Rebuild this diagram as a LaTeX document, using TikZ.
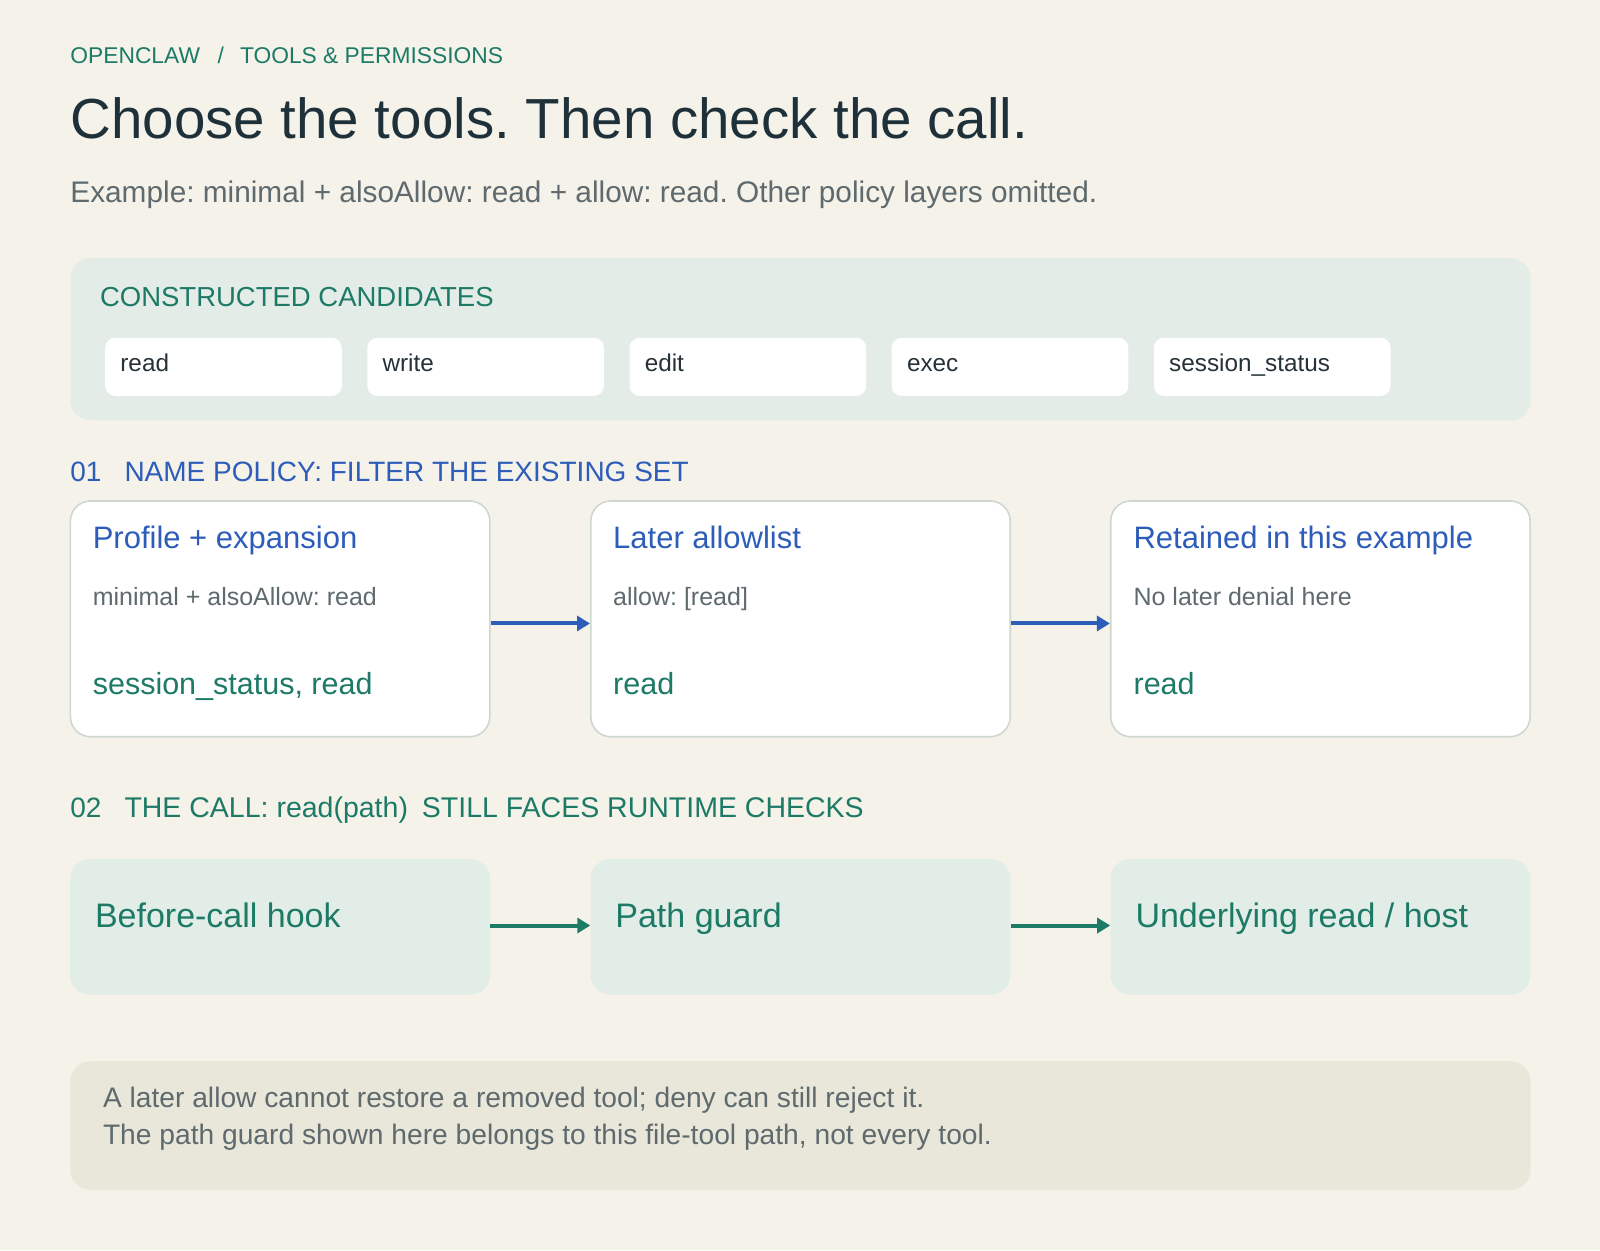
\documentclass[tikz,border=0pt]{standalone}
\usepackage{fontspec}
\setmainfont{Liberation Sans}
\usetikzlibrary{arrows.meta}
\frenchspacing
\definecolor{bg}{HTML}{F5F2EA}
\definecolor{panel}{HTML}{E4ECE7}
\definecolor{callfill}{HTML}{E3EDE7}
\definecolor{notefill}{HTML}{E9E6DA}
\definecolor{cardline}{HTML}{CFD7D1}
\definecolor{teal}{HTML}{1D7A66}
\definecolor{blue}{HTML}{2D5DB9}
\definecolor{ink}{HTML}{1E3039}
\definecolor{muted}{HTML}{5E6A6D}
\definecolor{chipink}{HTML}{263238}
\begin{document}
\frenchspacing
\begin{tikzpicture}[x=1pt,y=-1pt,
  txt/.style={inner sep=0pt,outer sep=0pt,anchor=base west},
  fs/.style={font=\fontsize{#1pt}{#1pt}\selectfont},
  chip/.style={fill=white,rounded corners=10pt,minimum width=236.7pt,minimum height=58.1pt,inner sep=0pt},
  card/.style={fill=white,draw=cardline,line width=1.6pt,rounded corners=20pt,minimum width=419.4pt,minimum height=235.7pt,inner sep=0pt},
  callbox/.style={fill=callfill,rounded corners=20pt,minimum width=420pt,minimum height=135.7pt,inner sep=0pt},
  bluearrow/.style={draw=blue,line width=4pt,-{Triangle[length=13pt,width=15pt]}},
  tealarrow/.style={draw=teal,line width=4pt,-{Triangle[length=13pt,width=15pt]}}
]
\fill[bg] (0,0) rectangle (1600,1250);
\useasboundingbox (0,0) rectangle (1600,1250);

% header
\node[txt,fs=22.8,text=teal] (k1) at (70.4,63.3) {OPENCLAW};
\node[txt,fs=22.8,text=teal] (k2) at (217.5,63.3) {/};
\node[txt,fs=22.8,text=teal] (k3) at (240,63.3) {TOOLS \& PERMISSIONS};
\node[txt,fs=56.5,text=ink] (title) at (70.4,138.8) {Choose the tools. Then check the call.};
\node[txt,fs=29.8,text=muted] (sub) at (70.4,202) {Example: minimal + alsoAllow: read + allow: read. Other policy layers omitted.};

% candidates panel
\node[fill=panel,rounded corners=20pt,minimum width=1460.2pt,minimum height=162.2pt,inner sep=0pt] (panel) at (800.5,339.3) {};
\node[txt,fs=27.5,text=teal] (ph) at (100,306) {CONSTRUCTED CANDIDATES};
\foreach \i/\t in {0/read,1/write,2/edit,3/exec,4/session\_status}{
  \node[chip] (ch\i) at ({223.45+262.2*\i},366.85) {};
  \node[txt,fs=24.3,text=chipink] (cht\i) at ({120.4+262.2*\i},371.4) {\t};
}

% section 01
\node[txt,fs=28,text=blue] (s1n) at (70.4,481.6) {01};
\node[txt,fs=28,text=blue] (s1) at (124.5,481.6) {NAME POLICY: FILTER THE EXISTING SET};

\node[card] (c1) at (280.1,618.85) {};
\node[card] (c2) at (800.5,618.85) {};
\node[card] (c3) at (1320.4,618.85) {};

\node[txt,fs=31,text=blue] (c1t) at (92.8,548) {Profile + expansion};
\node[txt,fs=25,text=muted] (c1b) at (92.8,605) {minimal + alsoAllow: read};
\node[txt,fs=30.5,text=teal] (c1r) at (92.8,694) {session\_status, read};

\node[txt,fs=31,text=blue] (c2t) at (613.2,548) {Later allowlist};
\node[txt,fs=25,text=muted] (c2b) at (613.2,605) {allow: [read]};
\node[txt,fs=30.5,text=teal] (c2r) at (613.2,694) {read};

\node[txt,fs=31,text=blue] (c3t) at (1133.6,548) {Retained in this example};
\node[txt,fs=25,text=muted] (c3b) at (1133.6,605) {No later denial here};
\node[txt,fs=30.5,text=teal] (c3r) at (1133.6,694) {read};

\draw[bluearrow] ([yshift=-4.6pt]c1.east) -- ([yshift=-4.6pt]c2.west);
\draw[bluearrow] ([yshift=-4.6pt]c2.east) -- ([yshift=-4.6pt]c3.west);

% section 02
\node[txt,fs=28,text=teal] (s2n) at (70.4,817.3) {02};
\node[txt,fs=28.5,text=teal] (s2) at (124.5,817.3) {THE CALL: read(path)\hspace{6pt} STILL FACES RUNTIME CHECKS};

\node[callbox] (b1) at (280.1,927) {};
\node[callbox] (b2) at (800.5,927) {};
\node[callbox] (b3) at (1320.4,927) {};

\node[txt,fs=34,text=teal] (b1t) at (95,927.6) {Before-call hook};
\node[txt,fs=34,text=teal] (b2t) at (615.4,927.6) {Path guard};
\node[txt,fs=34,text=teal] (b3t) at (1135.5,927.6) {Underlying read / host};

\draw[tealarrow] ([yshift=1.5pt]b1.east) -- ([yshift=1.5pt]b2.west);
\draw[tealarrow] ([yshift=1.5pt]b2.east) -- ([yshift=1.5pt]b3.west);

% note
\node[fill=notefill,rounded corners=20pt,minimum width=1460.2pt,minimum height=128.6pt,inner sep=0pt] (note) at (800.5,1125.5) {};
\node[txt,fs=28.2,text=muted] (n1) at (103,1107) {A later allow cannot restore a removed tool; deny can still reject it.};
\node[txt,fs=28.2,text=muted] (n2) at (103,1144) {The path guard shown here belongs to this file-tool path, not every tool.};
\end{tikzpicture}
\end{document}
